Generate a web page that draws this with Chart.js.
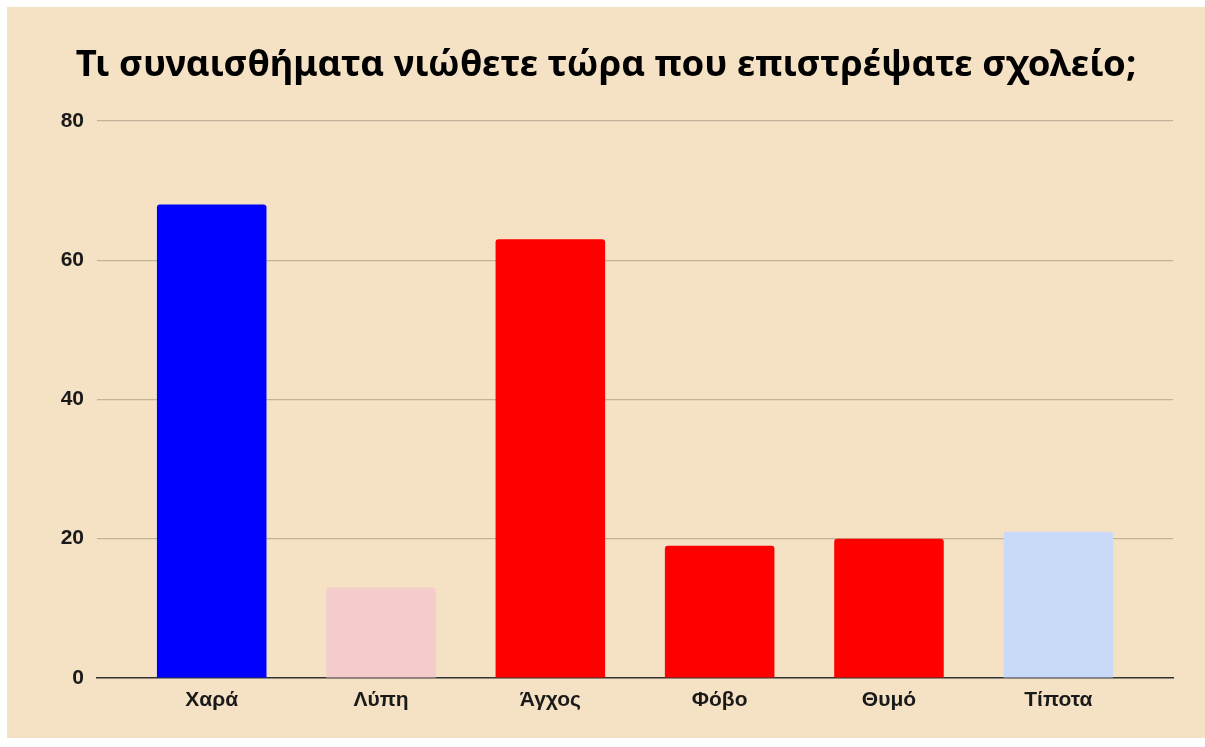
<!DOCTYPE html>
<html>
<head>
<meta charset="utf-8">
<script src="https://cdn.jsdelivr.net/npm/chart.js@4/dist/chart.umd.min.js"></script>
<style>
  html, body { margin: 0; padding: 0; background: #ffffff; }
  #wrap { position: absolute; left: 7px; top: 7px; width: 1198px; height: 731px; background: #F5E1C4; }
  canvas { display: block; }
</style>
</head>
<body>
<div id="wrap"><canvas id="c" width="1198" height="731"></canvas></div>
<script>
const categories = ["Χαρά", "Λύπη", "Άγχος", "Φόβο", "Θυμό", "Τίποτα"];
const values = [68, 13, 63, 19, 20, 21];
const barColors = ["#0000FF", "#F4CCCC", "#FF0000", "#FF0000", "#FF0000", "#C9DAF8"];
const yTicks = [0, 20, 40, 60, 80];
const titleText = "Τι συναισθήματα νιώθετε τώρα που επιστρέψατε σχολείο;";

const points = categories.map((c, i) => ({ x: i, y: values[i] }));
const tickFont = { family: "'Liberation Sans', Arial, sans-serif", size: 21, weight: "bold" };

new Chart(document.getElementById("c"), {
  type: "bar",
  data: {
    datasets: [{
      data: points,
      backgroundColor: barColors,
      borderWidth: 0,
      borderRadius: { topLeft: 3, topRight: 3, bottomLeft: 0, bottomRight: 0 },
      borderSkipped: false,
      categoryPercentage: 1,
      barPercentage: 0.647
    }]
  },
  options: {
    responsive: false,
    animation: false,
    layout: { padding: 0 },
    plugins: {
      legend: { display: false },
      tooltip: { enabled: false },
      title: {
        display: true,
        text: titleText,
        color: "#000000",
        font: { family: "'Comic Sans MS', 'Noto Sans', sans-serif", size: 36.5, weight: "bold", lineHeight: 1.2 },
        padding: { top: 37, bottom: 33 }
      }
    },
    scales: {
      x: {
        type: "linear",
        offset: false,
        min: -0.6775,
        max: categories.length - 1 + 0.6775,
        afterBuildTicks: s => { s.ticks = categories.map((c, i) => ({ value: i })); },
        grid: { display: false, drawTicks: false, offset: false },
        border: { display: true, color: "#333333", width: 1.5 },
        ticks: {
          color: "#1a1a1a", padding: 10, maxRotation: 0, autoSkip: false,
          font: tickFont,
          callback: v => categories[v]
        },
        afterFit: s => { s.height = 60; }
      },
      y: {
        min: 0, max: 80,
        afterBuildTicks: s => { s.ticks = yTicks.map(v => ({ value: v })); },
        grid: { color: ctx => ctx.tick && ctx.tick.value === 0 ? "rgba(0,0,0,0)" : "#C2B29C", lineWidth: 1.2, drawTicks: false },
        border: { display: false },
        ticks: { color: "#1a1a1a", padding: 13, font: tickFont },
        afterFit: s => { s.width = 90; }
      },
      yRight: {
        position: "right",
        display: true,
        grid: { display: false, drawTicks: false },
        border: { display: false },
        ticks: { display: false },
        afterFit: s => { s.width = 32; }
      }
    }
  }
});
</script>
</body>
</html>
